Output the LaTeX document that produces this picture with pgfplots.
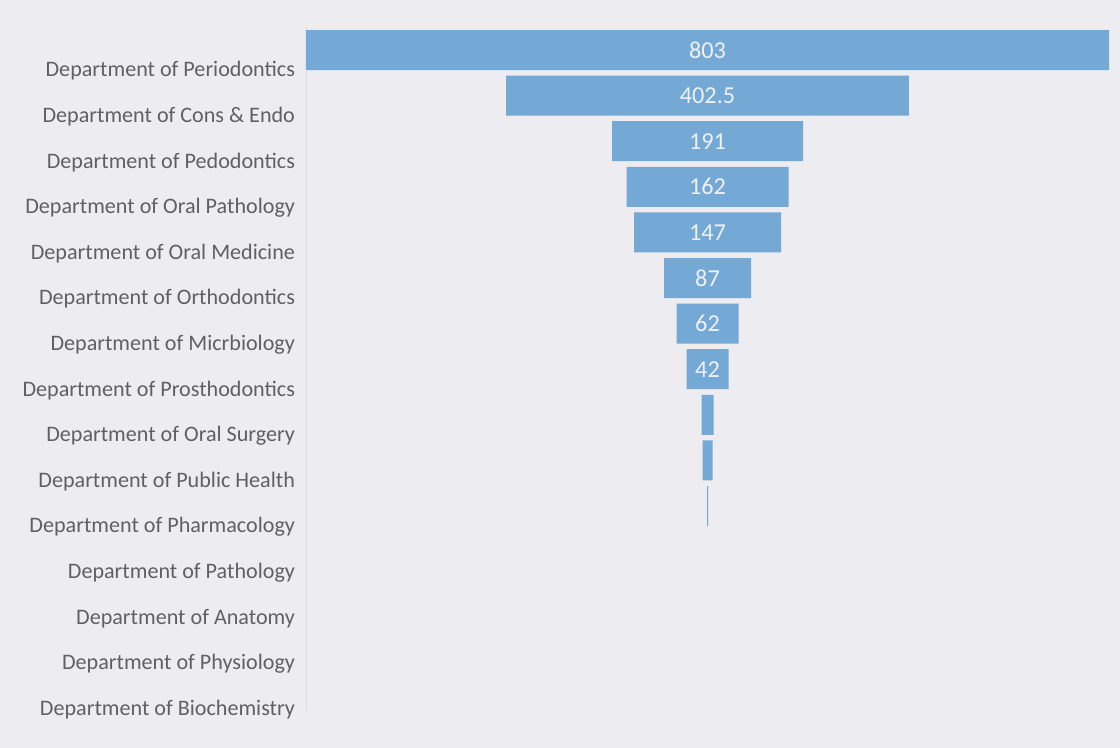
\documentclass[border=0pt]{standalone}
\usepackage{fontspec}
\setmainfont{Carlito}
\usepackage{pgfplots}
\usepackage{pgfplotstable}
\pgfplotsset{compat=1.18}
\definecolor{barblue}{RGB}{116,169,214}
\definecolor{bgc}{RGB}{236,236,241}
\definecolor{labgray}{RGB}{96,96,100}
\definecolor{axgray}{RGB}{218,218,226}

\pgfplotstableread{
idx value offset
0 803 0
1 402.5 200.25
2 191 306
3 162 320.5
4 147 328
5 87 358
6 62 370.5
7 42 380.5
8 12 395.5
9 10 396.5
10 1 401
11 0 401.5
12 0 401.5
13 0 401.5
14 0 401.5
}\funneldata

\pgfplotstableread{
idx center label
0 401.5 803
1 401.5 402.5
2 401.5 191
3 401.5 162
4 401.5 147
5 401.5 87
6 401.5 62
7 401.5 42
}\labeldata

\pgfplotsset{funnelaxis/.style={
  scale only axis,
  width=407bp, height=342bp,
  at={(0,0)}, anchor=south west,
  xmin=0, xmax=814,
  ymin=-0.5, ymax=14.5,
  y dir=reverse,
}}

\begin{document}
\begin{tikzpicture}
\fill[bgc] (-153bp,-18.4bp) rectangle (407bp,355.6bp);
\begin{axis}[
  funnelaxis,
  xbar stacked,
  bar width=20bp,
  axis x line=none,
  axis y line*=left,
  y axis line style={draw=axgray},
  ytick={0,...,14},
  yticklabels={
    Department of Periodontics,
    Department of Cons \& Endo,
    Department of Pedodontics,
    Department of Oral Pathology,
    Department of Oral Medicine,
    Department of Orthodontics,
    Department of Micrbiology,
    Department of Prosthodontics,
    Department of Oral Surgery,
    Department of Public Health,
    Department of Pharmacology,
    Department of Pathology,
    Department of Anatomy,
    Department of Physiology,
    Department of Biochemistry},
  major tick length=0pt,
  yticklabel style={font=\fontsize{11.1}{12}\selectfont, text=labgray, anchor=east, xshift=-2bp, yshift=-10.5bp},
]
\addplot[draw=none, fill=none, forget plot] table[x=offset, y=idx] {\funneldata};
\addplot[draw=none, fill=barblue] table[x=value, y=idx] {\funneldata};
\end{axis}
\begin{axis}[
  funnelaxis,
  hide axis,
]
\addplot[draw=none, mark=none, nodes near coords, point meta=explicit symbolic,
  every node near coord/.append style={anchor=center, text={rgb,255:red,238;green,240;blue,246}, font=\fontsize{12.2}{13}\selectfont}]
  table[x=center, y=idx, meta=label] {\labeldata};
\end{axis}
\pgfresetboundingbox
\path[use as bounding box] (-153bp,-18.4bp) rectangle (407bp,355.6bp);
\end{tikzpicture}
\end{document}
